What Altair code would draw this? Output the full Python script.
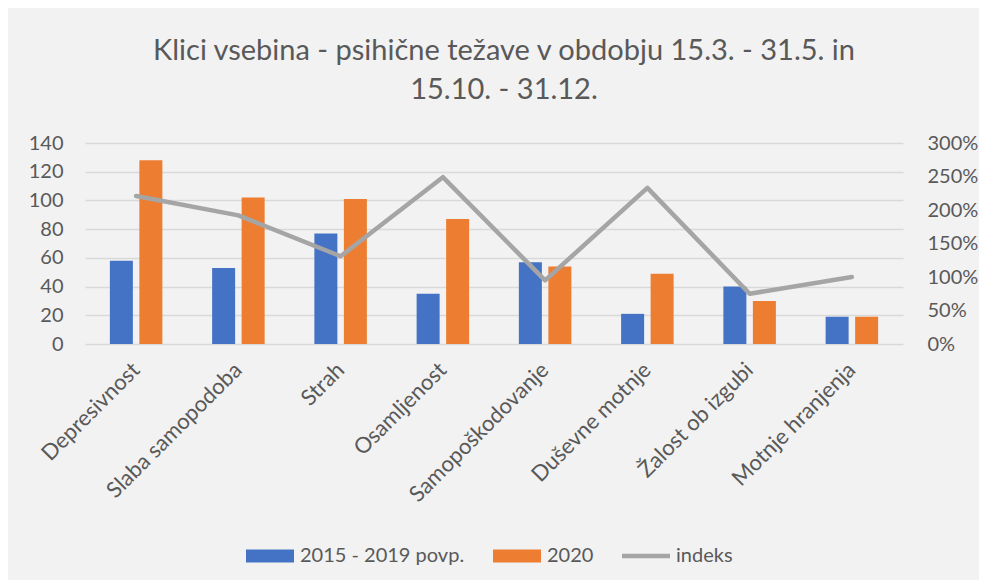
import altair as alt
import pandas as pd

categories = ["Depresivnost", "Slaba samopodoba", "Strah", "Osamljenost",
              "Samopoškodovanje", "Duševne motnje", "Žalost ob izgubi", "Motnje hranjenja"]
avg_2015_2019 = [58, 53, 77, 35, 57, 21, 40, 19]
val_2020 = [128, 102, 101, 87, 54, 49, 30, 19]
indeks = [2.21, 1.92, 1.31, 2.49, 0.95, 2.33, 0.75, 1.00]

series_names = ["2015 - 2019 povp.", "2020", "indeks"]
series_colors = ["#4472C4", "#ED7D31", "#A5A5A5"]
y_left_ticks = [0, 20, 40, 60, 80, 100, 120, 140]
y_right_ticks = [0, 0.5, 1.0, 1.5, 2.0, 2.5, 3.0]

bars_df = pd.DataFrame({
    "category": categories * 2,
    "series": [series_names[0]] * len(categories) + [series_names[1]] * len(categories),
    "value": avg_2015_2019 + val_2020,
})
line_df = pd.DataFrame({
    "category": categories,
    "series": [series_names[2]] * len(categories),
    "indeks": indeks,
})
legend_df = pd.DataFrame({"series": series_names})

FONT = "Lato"
TXT = "#595959"
GRID = "#D9D9D9"

rect_path = "M-1,-0.27H1V0.27H-1Z"
line_path = "M-1,-0.09H1V0.09H-1Z"

color_scale = alt.Scale(domain=series_names, range=series_colors)

legend = alt.Legend(
    title=None, orient="none", direction="horizontal", columns=3,
    legendX=161, legendY=389,
    symbolSize=2304, symbolOpacity=1, symbolStrokeWidth=0,
    labelFont=FONT, labelFontSize=20, labelColor=TXT, labelOffset=6, labelLimit=400,
    columnPadding=28, padding=0,
)

x_enc = alt.X(
    "category:N", sort=categories, title=None,
    scale=alt.Scale(paddingInner=0, paddingOuter=0),
    axis=alt.Axis(labelAngle=-45, labelAlign="right", labelBaseline="middle",
                  labelPadding=22, ticks=False, domain=False, grid=False,
                  labelFont=FONT, labelFontSize=22, labelColor=TXT, labelLimit=300),
)

bars = alt.Chart(bars_df).mark_bar(size=23).encode(
    x=x_enc,
    xOffset=alt.XOffset("series:N", sort=series_names[:2],
                        scale=alt.Scale(domain=series_names[:2], paddingInner=0.22, paddingOuter=0.843)),
    y=alt.Y("value:Q", title=None,
            scale=alt.Scale(domain=[0, 140], nice=False, zero=True),
            axis=alt.Axis(values=y_left_ticks, orient="left", ticks=False, domain=False,
                          grid=True, gridColor=GRID, gridWidth=1.3,
                          labelPadding=22, labelFont=FONT, labelFontSize=20, labelColor=TXT)),
    color=alt.Color("series:N", scale=color_scale, legend=None),
)

line = alt.Chart(line_df).mark_line(strokeWidth=4.5, strokeCap="round", strokeJoin="round").encode(
    x=x_enc,
    y=alt.Y("indeks:Q", title=None,
            scale=alt.Scale(domain=[0, 3], nice=False, zero=True),
            axis=alt.Axis(values=y_right_ticks, format=".0%", orient="right", ticks=False,
                          domain=False, grid=False, labelPadding=24,
                          labelFont=FONT, labelFontSize=20, labelColor=TXT)),
    color=alt.Color("series:N", scale=color_scale, legend=None),
)

legend_layer = alt.Chart(legend_df).mark_point(filled=True, clip=True, strokeWidth=0, opacity=1).encode(
    x=alt.value(-2000),
    y=alt.value(-2000),
    color=alt.Color("series:N", scale=color_scale, legend=legend),
    shape=alt.Shape("series:N", scale=alt.Scale(domain=series_names, range=[rect_path, rect_path, line_path]),
                    legend=legend),
)

chart = alt.layer(bars, line, legend_layer).resolve_scale(
    y="independent", color="independent", shape="independent"
).properties(
    width=818, height=201,
    autosize=alt.AutoSizeParams(type="none"),
    padding={"left": 77, "top": 135, "right": 76, "bottom": 236},
    background="#F2F2F2",
    title=alt.TitleParams(
        text=["Klici vsebina - psihične težave v obdobju 15.3. - 31.5. in", "15.10. - 31.12."],
        anchor="middle", frame="group", offset=28, dx=10,
        font=FONT, fontSize=29, fontWeight="normal", color=TXT, lineHeight=39,
    ),
).configure_view(stroke=None)

chart.save("out.html", embed_options={"renderer": "svg", "actions": False})
